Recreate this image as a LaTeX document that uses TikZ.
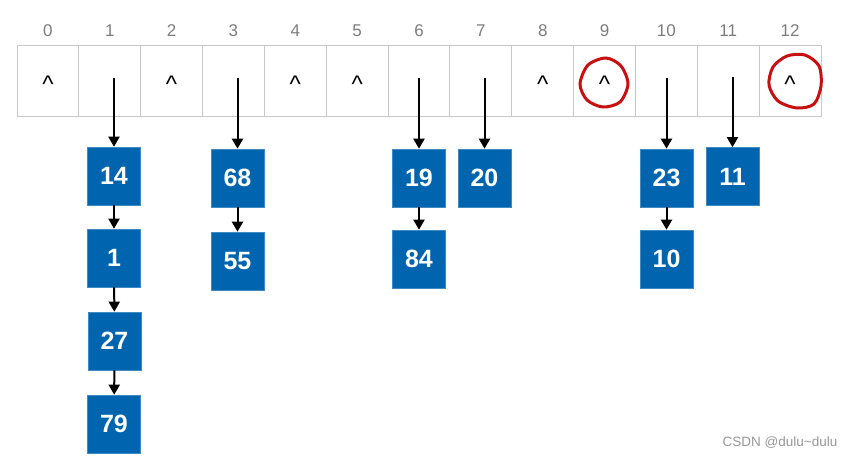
\documentclass[tikz,border=0pt]{standalone}
\usepackage{fontspec}
\setmainfont{Liberation Sans}
\usetikzlibrary{arrows.meta}
\definecolor{boxblue}{RGB}{0,100,175}
\definecolor{penred}{RGB}{200,16,16}
\definecolor{gridgray}{RGB}{200,200,200}
\definecolor{idxgray}{RGB}{125,125,125}

\begin{document}
\begin{tikzpicture}[x=1pt,y=-1pt,
  cell/.style={draw=gridgray, line width=1pt, minimum width=61.85pt, minimum height=71pt, inner sep=0pt},
  idx/.style={text=idxgray, inner sep=0pt, font=\fontsize{17}{17}\selectfont},
  nil/.style={inner sep=0pt, font=\fontsize{24}{24}\selectfont},
  elem/.style={fill=boxblue, draw=boxblue!75!white, line width=0.6pt, minimum width=53pt, minimum height=58pt,
    inner sep=0pt, text=white, font=\fontsize{25}{25}\selectfont\bfseries},
  link/.style={line width=2pt, -{Triangle[length=10pt,width=11pt]}},
  scribble/.style={draw=penred, line width=3pt, line cap=round}]
\useasboundingbox (0,0) rectangle (855,463);

% bucket array
\foreach \i in {0,...,12} {
  \node[cell] (c\i) at ({17+61.85*(\i+0.5)},80.5) {};
  \node[idx] (i\i) at ({17+61.85*(\i+0.5)},31) {\i};
}
\foreach \i in {0,2,4,5,8,9,12}
  \node[nil] (n\i) at ({17+61.85*(\i+0.5)},84) {\textasciicircum};

% chains
\node[elem] (a1) at (114,176) {14};
\node[elem] (a2) at (114,258) {1};
\node[elem] (a3) at (114.5,341) {27};
\node[elem] (a4) at (114,424) {79};
\node[elem] (b1) at (237.5,178) {68};
\node[elem] (b2) at (237.5,261) {55};
\node[elem] (d1) at (419,178) {19};
\node[elem] (d2) at (419,259) {84};
\node[elem] (e1) at (484.5,178) {20};
\node[elem] (f1) at (666.5,178) {23};
\node[elem] (f2) at (666.5,259) {10};
\node[elem] (g1) at (732.5,176.5) {11};

\coordinate (s1) at (114,78);
\coordinate (s3) at (237.5,78);
\coordinate (s6) at (419,78);
\coordinate (s7) at (484.5,78);
\coordinate (s10) at (666.5,78);
\coordinate (s11) at (732.5,77);

\draw[link] (s1) -- (a1);
\draw[link] (a1) -- (a2);
\draw[link] (a2) -- (a3);
\draw[link] (a3) -- (a4);
\draw[link] (s3) -- (b1);
\draw[link] (b1) -- (b2);
\draw[link] (s6) -- (d1);
\draw[link] (d1) -- (d2);
\draw[link] (s7) -- (e1);
\draw[link] (s10) -- (f1);
\draw[link] (f1) -- (f2);
\draw[link] (s11) -- (g1);

% red marks
\draw[scribble] plot[smooth cycle] coordinates {(606,58) (621,66) (628,84) (620,102) (603,107) (587,100) (580,84) (588,65)};
\draw[scribble] plot[smooth cycle] coordinates {(787,56) (805,55) (819,66) (821,86) (814,104) (797,108) (778,101) (769,85) (773,67)};

\node[text=idxgray!80, font=\fontsize{13.5}{13.5}\selectfont] (mark) at (780,443) {CSDN @dulu\textasciitilde dulu};
\end{tikzpicture}
\end{document}
